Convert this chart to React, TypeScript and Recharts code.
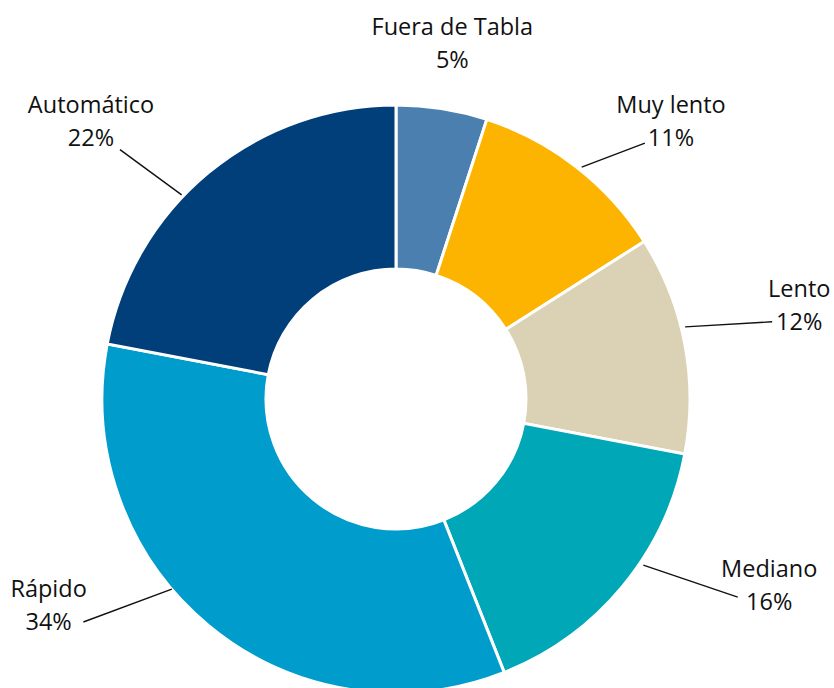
import React from "react";
import { PieChart, Pie, Cell } from "recharts";

const categories = ["Fuera de Tabla", "Muy lento", "Lento", "Mediano", "Rápido", "Automático"];
const shares = [5, 11, 12, 16, 34, 22];
const colors = ["#4a7fb0", "#fdb400", "#dbd2b5", "#00a7b6", "#009ccb", "#003f7a"];

// label placement relative to each slice's mid angle (degrees clockwise) and outer radius (px)
const labelLayout = [
  { tA: 0, tR: 66, line: null },
  { tA: 6.9, tR: 97, line: { sA: 0.9, sR: 3, eA: 6.4, eR: 63 } },
  { tA: -2.3, tR: 120, line: { sA: -3.2, sR: 4, eA: -0.8, eR: 90 } },
  { tA: -13.1, tR: 123, line: { sA: -5.7, sR: 4, eA: -9.5, eR: 101 } },
  { tA: 19.7, tR: 110, line: { sA: 10.1, sR: 0, eA: 14.9, eR: 90 } },
  { tA: -8.0, tR: 119, line: { sA: -6.8, sR: 2, eA: -8.3, eR: 78 } },
];

const data = categories.map((name, i) => ({ name, value: shares[i] }));

const FONT = "'Open Sans', sans-serif";
const FS = 23.5;

const polar = (cx: number, cy: number, cwDeg: number, r: number) => {
  const a = (cwDeg * Math.PI) / 180;
  return { x: cx + r * Math.sin(a), y: cy - r * Math.cos(a) };
};

const renderLabel = (props: any) => {
  const { cx, cy, midAngle, outerRadius, index, name, value } = props;
  const lay = labelLayout[index];
  const cw = 90 - midAngle;
  const t = polar(cx, cy, cw + lay.tA, outerRadius + lay.tR);
  let lineEl = null;
  if (lay.line) {
    const s = polar(cx, cy, cw + lay.line.sA, outerRadius + lay.line.sR);
    const e = polar(cx, cy, cw + lay.line.eA, outerRadius + lay.line.eR);
    lineEl = <line x1={s.x} y1={s.y} x2={e.x} y2={e.y} stroke="#111" strokeWidth={1.4} />;
  }
  return (
    <g key={`lbl-${index}`}>
      {lineEl}
      <text x={t.x} y={t.y - 8} textAnchor="middle" fontFamily={FONT} fontSize={FS} fill="#111">
        {name}
      </text>
      <text x={t.x} y={t.y + 25} textAnchor="middle" fontFamily={FONT} fontSize={FS} fill="#111">
        {`${value}%`}
      </text>
    </g>
  );
};

export default function App() {
  return (
    <div style={{ position: "absolute", left: 0, top: 0, width: 834, height: 688, background: "#fff" }}>
      <PieChart width={834} height={688} margin={{ top: 0, right: 0, bottom: 0, left: 0 }}>
        <Pie
          data={data}
          dataKey="value"
          nameKey="name"
          cx={396}
          cy={399}
          innerRadius={130}
          outerRadius={294}
          startAngle={90}
          endAngle={-270}
          stroke="#ffffff"
          strokeWidth={3}
          label={renderLabel}
          labelLine={false}
          isAnimationActive={false}
        >
          {data.map((d, i) => (
            <Cell key={d.name} fill={colors[i]} />
          ))}
        </Pie>
      </PieChart>
    </div>
  );
}
